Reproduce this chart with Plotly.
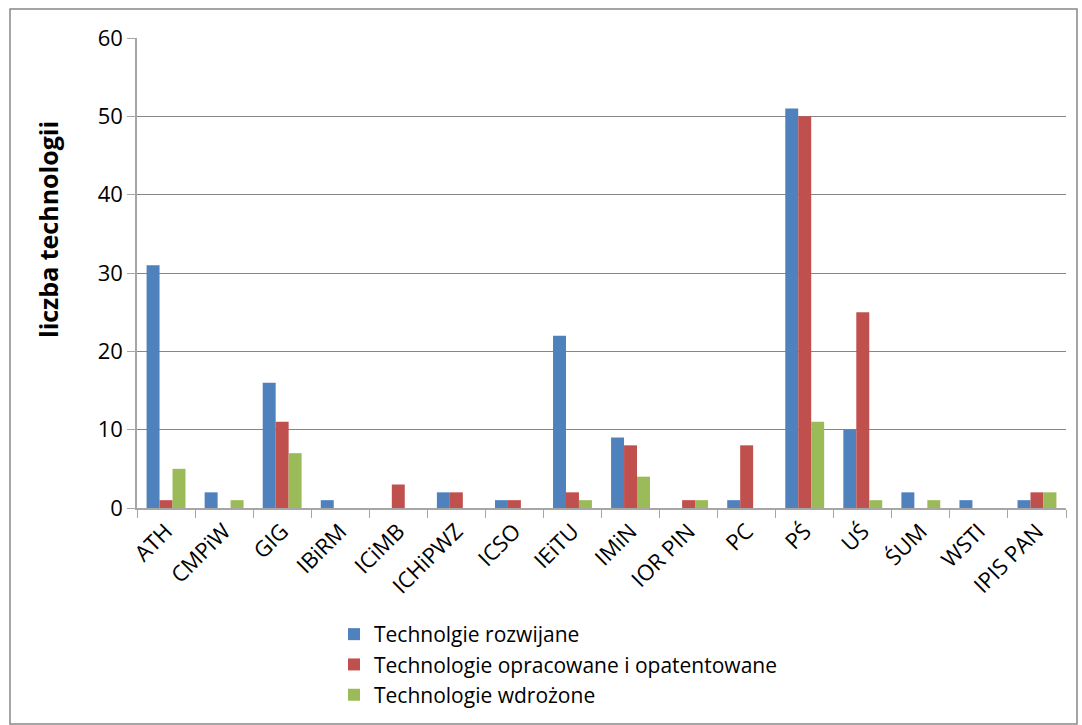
import plotly.graph_objects as go

categories = ["ATH", "CMPiW", "GIG", "IBiRM", "ICiMB", "ICHiPWZ", "ICSO", "IEiTU",
              "IMiN", "IOR PIN", "PC", "PŚ", "UŚ", "ŚUM", "WSTI", "IPIS PAN"]
rozwijane = [31, 2, 16, 1, 0, 2, 1, 22, 9, 0, 1, 51, 10, 2, 1, 1]
opatentowane = [1, 0, 11, 0, 3, 2, 1, 2, 8, 1, 8, 50, 25, 0, 0, 2]
wdrozone = [5, 1, 7, 0, 0, 0, 0, 1, 4, 1, 0, 11, 1, 1, 0, 2]

series = [
    ("Technolgie rozwijane", rozwijane, "#4F81BD"),
    ("Technologie opracowane i opatentowane", opatentowane, "#C0504D"),
    ("Technologie wdrożone", wdrozone, "#9BBB59"),
]

fig = go.Figure()
for name, vals, col in series:
    fig.add_trace(go.Bar(x=categories, y=vals, name=name, marker_color=col,
                         marker_line_width=0))

W, H = 1082, 725
ml, mr, mt, mb = 137, 16, 38, 217
pw, ph = W - ml - mr, H - mt - mb

fig.update_layout(
    width=W, height=H,
    margin=dict(l=ml, r=mr, t=mt, b=mb, autoexpand=False),
    paper_bgcolor="white", plot_bgcolor="white",
    barmode="group", bargap=0.33, bargroupgap=0,
    font=dict(family="Open Sans, Liberation Sans, sans-serif", size=22, color="black"),
    showlegend=True,
    legend=dict(xref="container", yref="container", x=334 / W, y=1 - 614 / H,
                xanchor="left", yanchor="top",
                orientation="v", font=dict(size=21), tracegroupgap=0,
                bgcolor="rgba(0,0,0,0)"),
    xaxis=dict(showline=True, linecolor="#A6A6A6", linewidth=1.5, ticks="outside",
               tickson="boundaries", ticklen=8, tickcolor="#A6A6A6",
               tickangle=-45, tickfont=dict(size=22), showgrid=False, automargin=False),
    yaxis=dict(range=[0, 60], dtick=10, showline=True, linecolor="#A6A6A6", linewidth=1.5,
               ticks="outside", ticklen=8, tickcolor="#A6A6A6",
               gridcolor="#868686", gridwidth=1, tickfont=dict(size=22),
               zeroline=False, automargin=False),
    annotations=[dict(text="<b>liczba technologii</b>", xref="paper", yref="paper",
                      x=(48 - ml) / pw, y=(mt + ph - 230) / ph, xanchor="center",
                      yanchor="middle", textangle=-90, showarrow=False,
                      font=dict(size=25, color="black"))],
    shapes=[dict(type="rect", xref="paper", yref="paper",
                 x0=(10 - ml) / pw, x1=(1077 - ml) / pw,
                 y0=(mt + ph - 724) / ph, y1=(mt + ph - 9) / ph,
                 line=dict(color="#888888", width=1.5), fillcolor="rgba(0,0,0,0)",
                 layer="below")],
)

fig.write_html("out.html", config={"displayModeBar": False},
               post_script="document.body.style.margin='0';document.body.style.padding='0';")
